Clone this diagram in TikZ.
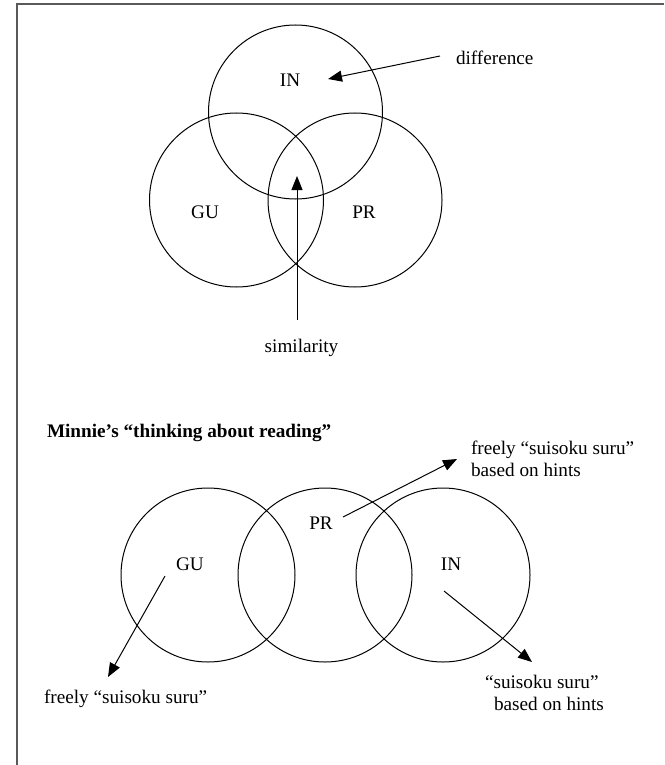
\documentclass[tikz,border=0pt]{standalone}
\usepackage{fontspec}
\setmainfont{Liberation Serif}
\usetikzlibrary{arrows.meta}
\begin{document}
\begin{tikzpicture}[x=1pt,y=-1pt,
  every node/.style={inner sep=0pt,outer sep=0pt,font=\fontsize{19.2pt}{22pt}\selectfont},
  ring/.style={circle,draw=black,line width=1pt,minimum size=174pt},
  lbl/.style={anchor=base},
  arr/.style={draw=black,line width=1pt,-{Triangle[length=14pt,width=11pt]}},
  frameline/.style={draw=black!65,line width=1.3pt}]
\useasboundingbox (0,0) rectangle (664,765);
% frame
\coordinate (fTR) at (664,4);
\coordinate (fTL) at (17,4);
\coordinate (fBL) at (17,765);
\draw[frameline] (fTR) -- (fTL) -- (fBL);
% ---------- top diagram ----------
\node[ring] (cIN) at (295.5,112) {};
\node[ring] (cGU) at (236.5,200) {};
\node[ring] (cPR) at (355,200) {};
\node[lbl] (tIN) at (290,86.5) {IN};
\node[lbl] (tGU) at (205,218.5) {GU};
\node[lbl] (tPR) at (364,218.5) {PR};
\node[lbl,anchor=base west] (tdiff) at (456,65) {difference};
\coordinate (dStart) at (440,56);
\coordinate (dTip) at (328,79);
\draw[arr] (dStart) -- (dTip);
\node[lbl] (tsim) at (301.5,352) {similarity};
\coordinate (sStart) at (297,320);
\coordinate (sTip) at (297,176);
\draw[arr] (sStart) -- (sTip);
% ---------- bottom diagram ----------
\node[lbl,anchor=base west,font=\fontsize{19.2pt}{22pt}\selectfont\bfseries] (title) at (47,437.5) {Minnie’s “thinking about reading”};
\node[ring] (bGU) at (208,575) {};
\node[ring] (bPR) at (325,575) {};
\node[ring] (bIN) at (443,575) {};
\node[lbl] (uPR) at (321,529.5) {PR};
\node[lbl] (uGU) at (190,570.5) {GU};
\node[lbl] (uIN) at (451,570.5) {IN};
% PR arrow
\coordinate (pStart) at (343,517);
\coordinate (pTip) at (457,459);
\draw[arr] (pStart) -- (pTip);
\node[lbl,anchor=base west] (tPR1) at (471,454) {freely “suisoku suru”};
\node[lbl,anchor=base west] (tPR2) at (471,476) {based on hints};
% GU arrow
\coordinate (gStart) at (165,576);
\coordinate (gTip) at (108,677);
\draw[arr] (gStart) -- (gTip);
\node[lbl,anchor=base west] (tGU1) at (44,703) {freely “suisoku suru”};
% IN arrow
\coordinate (iStart) at (444,591);
\coordinate (iTip) at (532,662);
\draw[arr] (iStart) -- (iTip);
\node[lbl,anchor=base west] (tIN1) at (485,688) {“suisoku suru”};
\node[lbl,anchor=base west] (tIN2) at (494,710) {based on hints};
\end{tikzpicture}
\end{document}
